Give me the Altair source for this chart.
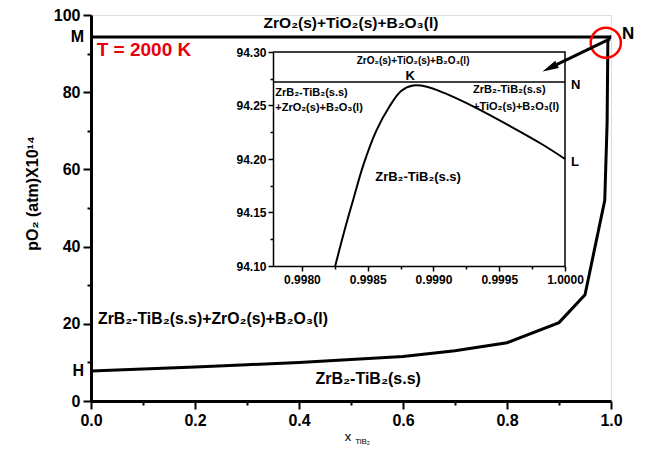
import altair as alt
import pandas as pd

# ---------------- data ----------------
# main boundary curve (x_TiB2 vs pO2 x 1e14)
main_x = [0.0, 0.1, 0.2, 0.3, 0.4, 0.5, 0.6, 0.7, 0.8, 0.9, 0.95, 0.988, 0.9925, 0.994, 0.99885, 1.0]
main_y = [7.8, 8.3, 8.8, 9.4, 10.0, 10.75, 11.5, 13.0, 15.1, 20.3, 27.5, 52.0, 72.0, 93.5, 94.27, 94.20]

# M line (three-phase boundary)
m_level = 94.27

# inset curve
ins_x = [0.998253, 0.998321, 0.998390, 0.998466, 0.998564, 0.998663, 0.998754,
         0.998845, 0.998950, 0.999076, 0.999316, 0.999582, 0.999835, 1.0]
ins_y = [94.100, 94.132, 94.162, 94.194, 94.226, 94.2486, 94.2636,
         94.2687, 94.2676, 94.2620, 94.2483, 94.2308, 94.2131, 94.200]
ins_n_level = 94.272

# tick values
main_x_major = [0.0, 0.2, 0.4, 0.6, 0.8, 1.0]
main_x_minor = [0.1, 0.3, 0.5, 0.7, 0.9]
main_y_major = [0, 20, 40, 60, 80, 100]
main_y_minor = [10, 30, 50, 70, 90]
ins_x_major = [0.998, 0.9985, 0.999, 0.9995, 1.0]
ins_x_minor = [0.99825, 0.99875, 0.99925, 0.99975]
ins_y_major = [94.10, 94.15, 94.20, 94.25, 94.30]
ins_y_minor = [94.125, 94.175, 94.225, 94.275]

FONT = "Liberation Sans"

MAIN_XSCALE = dict(domain=[0, 1], nice=False, zero=False)
MAIN_YSCALE = dict(domain=[0, 100], nice=False, zero=False)
INS_XSCALE = dict(domain=[0.99778, 1.0], range=[182, 474], nice=False, zero=False)
INS_YSCALE = dict(domain=[94.10, 94.30], range=[251, 37], nice=False, zero=False)

common_axis = dict(tickColor="black", domainColor="black", labelFont=FONT, labelColor="black",
                   labelFontWeight="bold", labelFlush=False, labelOverlap=False, grid=False)

# ---------------- main scales ----------------
MX = alt.X(
    "x:Q", scale=alt.Scale(**MAIN_XSCALE),
    axis=alt.Axis(orient="bottom", values=main_x_major, format=".1f", tickSize=8, tickWidth=2,
                  domainWidth=3, labelFontSize=16, labelPadding=3, title=None, **common_axis),
)
MY = alt.Y(
    "y:Q", scale=alt.Scale(**MAIN_YSCALE),
    axis=alt.Axis(orient="left", values=main_y_major, tickSize=8, tickWidth=2,
                  domainWidth=3, labelFontSize=16, labelPadding=3,
                  title="pO\u2082 (atm)X10\u00b9\u2074", titleFont=FONT, titleFontSize=16,
                  titleFontWeight="bold", titleColor="black", titleX=-59, titleY=178,
                  titleAngle=-90, titleBaseline="middle", titleAlign="center", **common_axis),
)

def mtext(rows, **kw):
    df = pd.DataFrame(rows, columns=["x", "y", "t"])
    return alt.Chart(df).mark_text(font=FONT, **kw).encode(x=MX, y=MY, text="t:N")

main_line = alt.Chart(pd.DataFrame({"x": main_x, "y": main_y})).mark_line(
    color="black", strokeWidth=3).encode(x=MX, y=MY)

m_rule = alt.Chart(pd.DataFrame({"x": [0.0, 1.0], "y": [m_level, m_level]})).mark_line(
    color="black", strokeWidth=3).encode(x=MX, y=MY)

circle = alt.Chart(pd.DataFrame({"x": [0.990], "y": [92.8]})).mark_point(
    shape="circle", size=908, filled=False, color="red", strokeWidth=2.5, opacity=1).encode(x=MX, y=MY)

arrow = alt.Chart(pd.DataFrame({"x": [0.998], "y": [93.8], "x2": [0.8823], "y2": [86.3]})).mark_rule(
    color="black", strokeWidth=3).encode(x=MX, y=MY, x2="x2:Q", y2="y2:Q")

tip = alt.Chart(pd.DataFrame({"x": [0.8823], "y": [86.3]})).mark_point(
    shape="M0,-1L0.5,1L-0.5,1Z", size=260, filled=True, color="black", opacity=1,
    angle=244).encode(x=MX, y=MY)

t_top = mtext([[0.5, 97.8, "ZrO\u2082(s)+TiO\u2082(s)+B\u2082O\u2083(l)"]],
              fontSize=15.5, fontWeight="bold", align="center", baseline="middle", color="black")
t_temp = mtext([[0.011, 90.9, "T = 2000 K"]],
               fontSize=19, fontWeight="bold", align="left", baseline="middle", color="#e8000b")
t_left = mtext([[0.0135, 21.3, "ZrB\u2082-TiB\u2082(s.s)+ZrO\u2082(s)+B\u2082O\u2083(l)"]],
               fontSize=15.8, fontWeight="bold", align="left", baseline="middle", color="black")
t_low = mtext([[0.533, 5.7, "ZrB\u2082-TiB\u2082(s.s)"]],
              fontSize=16, fontWeight="bold", align="center", baseline="middle", color="black")
t_m = mtext([[0.0, m_level, "M"], [0.0, 7.8, "H"]],
            fontSize=16, fontWeight="bold", align="right", baseline="middle", dx=-7, color="black")
t_n = mtext([[1.0, 95.2, "N"]],
            fontSize=17, fontWeight="bold", align="left", baseline="middle", dx=11, color="black")
t_xt = mtext([[0.494, 0.0, "x"]],
             fontSize=13, align="center", baseline="middle", dy=36, color="black")
t_xs = mtext([[0.508, 0.0, "TiB\u2082"]],
             fontSize=8, align="left", baseline="middle", dy=41, color="black")

main = alt.layer(main_line, m_rule, circle, arrow, tip, t_top, t_temp, t_left, t_low,
                 t_m, t_n, t_xt, t_xs)

# minor ticks for main axes (same scales, tick-only axes)
main_minor = alt.Chart(pd.DataFrame({"x": [0.5], "y": [50.0]})).mark_point(opacity=0).encode(
    x=alt.X("x:Q", scale=alt.Scale(**MAIN_XSCALE),
            axis=alt.Axis(orient="bottom", values=main_x_minor, tickSize=4, tickWidth=2,
                          tickColor="black", labels=False, domain=False, grid=False, title=None)),
    y=alt.Y("y:Q", scale=alt.Scale(**MAIN_YSCALE),
            axis=alt.Axis(orient="left", values=main_y_minor, tickSize=4, tickWidth=2,
                          tickColor="black", labels=False, domain=False, grid=False, title=None)),
)

# ---------------- inset scales ----------------
IX = alt.X(
    "x:Q", scale=alt.Scale(**INS_XSCALE),
    axis=alt.Axis(orient="bottom", offset=-135, values=ins_x_major, format=".4f",
                  tickSize=5, tickWidth=1.5, domainWidth=1.5, labelFontSize=12,
                  labelPadding=3, title=None, **common_axis),
)
IY = alt.Y(
    "y:Q", scale=alt.Scale(**INS_YSCALE),
    axis=alt.Axis(orient="left", offset=-182, values=ins_y_major, format=".2f",
                  tickSize=5, tickWidth=1.5, domainWidth=1.5, labelFontSize=12,
                  labelPadding=2, title=None, **common_axis),
)

def itext(rows, **kw):
    df = pd.DataFrame(rows, columns=["x", "y", "t"])
    return alt.Chart(df).mark_text(font=FONT, **kw).encode(x=IX, y=IY, text="t:N")

ins_line = alt.Chart(pd.DataFrame({"x": ins_x, "y": ins_y})).mark_line(
    color="black", strokeWidth=2, interpolate="catmull-rom").encode(x=IX, y=IY)

ins_frame = alt.Chart(pd.DataFrame({
    "x": [0.99778, 1.0, 1.0], "y": [94.30, 94.30, 94.10]})).mark_line(
    color="black", strokeWidth=1.5).encode(x=IX, y=IY)

ins_n = alt.Chart(pd.DataFrame({"x": [0.99778, 1.0], "y": [ins_n_level, ins_n_level]})).mark_line(
    color="black", strokeWidth=1.5).encode(x=IX, y=IY)

i_top = itext([[0.998845, 94.292, "ZrO\u2082(s)+TiO\u2082(s)+B\u2082O\u2083(l)"]],
              fontSize=10, fontWeight="bold", align="center", baseline="middle", color="black")
i_k = itext([[0.998823, 94.2775, "K"]],
            fontSize=13, fontWeight="bold", align="center", baseline="middle", color="black")
i_left = itext([[0.997797, 94.2614, "ZrB\u2082-TiB\u2082(s.s)"],
                [0.997797, 94.248, "+ZrO\u2082(s)+B\u2082O\u2083(l)"]],
               fontSize=11, fontWeight="bold", align="left", baseline="middle", color="black")
i_right = itext([[0.999301, 94.2645, "ZrB\u2082-TiB\u2082(s.s)"],
                 [0.999301, 94.2486, "+TiO\u2082(s)+B\u2082O\u2083(l)"]],
                fontSize=11, fontWeight="bold", align="left", baseline="middle", color="black")
i_mid = itext([[0.998883, 94.1835, "ZrB\u2082-TiB\u2082(s.s)"]],
              fontSize=13, fontWeight="bold", align="center", baseline="middle", color="black")
i_nl = itext([[1.0, 94.269, "N"], [1.0, 94.197, "L"]],
             fontSize=13, fontWeight="bold", align="left", baseline="middle", dx=6, color="black")

inset = alt.layer(ins_line, ins_frame, ins_n, i_top, i_k, i_left, i_right, i_mid, i_nl)

inset_minor = alt.Chart(pd.DataFrame({"x": [0.999], "y": [94.2]})).mark_point(opacity=0).encode(
    x=alt.X("x:Q", scale=alt.Scale(**INS_XSCALE),
            axis=alt.Axis(orient="bottom", offset=-135, values=ins_x_minor, tickSize=3,
                          tickWidth=1.5, tickColor="black", labels=False, domain=False,
                          grid=False, title=None)),
    y=alt.Y("y:Q", scale=alt.Scale(**INS_YSCALE),
            axis=alt.Axis(orient="left", offset=-182, values=ins_y_minor, tickSize=3,
                          tickWidth=1.5, tickColor="black", labels=False, domain=False,
                          grid=False, title=None)),
)

chart = alt.layer(main, main_minor, inset, inset_minor).resolve_scale(
    x="independent", y="independent"
).properties(
    width=520, height=386,
    padding={"left": 91, "top": 15, "right": 35, "bottom": 49},
    autosize=alt.AutoSizeParams(type="none"),
    background="white",
).configure_view(
    stroke="black", strokeWidth=3
).configure(font=FONT)

chart.save("out.html", embed_options={"renderer": "svg", "actions": False})
